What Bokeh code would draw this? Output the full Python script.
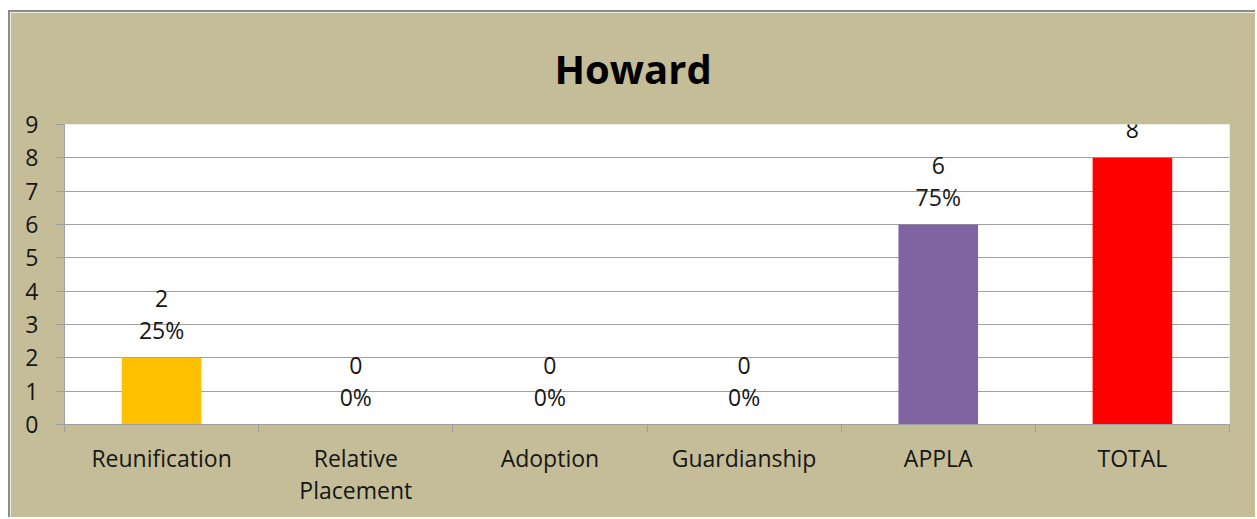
from bokeh.plotting import figure
from bokeh.models import FixedTicker, ColumnDataSource, Range1d
from bokeh.embed import file_html
from bokeh.resources import INLINE
from bokeh.core.properties import value

# ---- data ----
categories = ["Reunification", "Relative\nPlacement", "Adoption", "Guardianship", "APPLA", "TOTAL"]
counts = [2, 0, 0, 0, 6, 8]
percents = ["25%", "0%", "0%", "0%", "75%", ""]
colors = ["#FFC000", "#FFC000", "#FFC000", "#FFC000", "#8064A2", "#FF0000"]
y_ticks = list(range(0, 10))
title_text = "Howard"

FONT = "Open Sans"
BG = "#C4BD97"
GRID = "#A0A0A0"
TXT = "#161616"
FS = "23px"

xs = [i + 0.5 for i in range(len(categories))]
upper = [str(c) if p else "" for c, p in zip(counts, percents)]
lower = [p if p else str(c) for c, p in zip(counts, percents)]

src = ColumnDataSource(dict(x=xs, top=counts, color=colors, upper=upper, lower=lower))

p = figure(width=1247, height=507, x_range=Range1d(0, len(categories)),
           y_range=Range1d(0, 9), output_backend="svg", toolbar_location=None,
           min_border_left=54, min_border_right=28, min_border_top=111,
           min_border_bottom=95, title=title_text)
p.styles = {"margin-left": "8px", "margin-top": "10px",
            "border-left": "2px solid #8C8C8C", "border-top": "2px solid #8C8C8C"}
p.background_fill_color = "white"
p.border_fill_color = BG
p.outline_line_color = None

p.title.text_font = FONT
p.title.text_font_size = "40px"
p.title.text_font_style = "bold"
p.title.text_color = "black"
p.title.align = "left"
p.title.offset = 490
p.title.vertical_align = "middle"
p.title.standoff = 55

p.vbar(x="x", top="top", width=0.41, fill_color="color", line_color=None, source=src)

p.text(x="x", y="top", text="upper", source=src, y_offset=-59,
       text_align="center", text_baseline="middle", text_font=value(FONT),
       text_font_size=FS, text_color=TXT)
p.text(x="x", y="top", text="lower", source=src, y_offset=-28,
       text_align="center", text_baseline="middle", text_font=value(FONT),
       text_font_size=FS, text_color=TXT)

# y axis
p.yaxis.ticker = FixedTicker(ticks=y_ticks, minor_ticks=[])
p.yaxis.major_tick_out = 9
p.yaxis.major_tick_in = 0
p.yaxis.axis_line_color = GRID
p.yaxis.major_tick_line_color = GRID
p.yaxis.major_label_text_font = FONT
p.yaxis.major_label_text_font_size = FS
p.yaxis.major_label_text_color = TXT
p.yaxis.major_label_standoff = 17

# x axis: labels at centres, ticks at boundaries
p.xaxis.ticker = FixedTicker(ticks=xs, minor_ticks=list(range(len(categories) + 1)))
p.xaxis.major_label_overrides = {x: c for x, c in zip(xs, categories)}
p.xaxis.major_tick_out = 0
p.xaxis.major_tick_in = 0
p.xaxis.minor_tick_out = 8
p.xaxis.minor_tick_in = 0
p.xaxis.minor_tick_line_color = GRID
p.xaxis.axis_line_color = GRID
p.xaxis.major_label_text_font = FONT
p.xaxis.major_label_text_font_size = FS
p.xaxis.major_label_text_color = TXT
p.xaxis.major_label_text_line_height = 1.0
p.xaxis.major_label_standoff = 9

p.xgrid.grid_line_color = None
p.ygrid.ticker = FixedTicker(ticks=y_ticks)
p.ygrid.grid_line_color = GRID
p.ygrid.grid_line_width = 1

open("out.html", "w").write(file_html(p, INLINE))
